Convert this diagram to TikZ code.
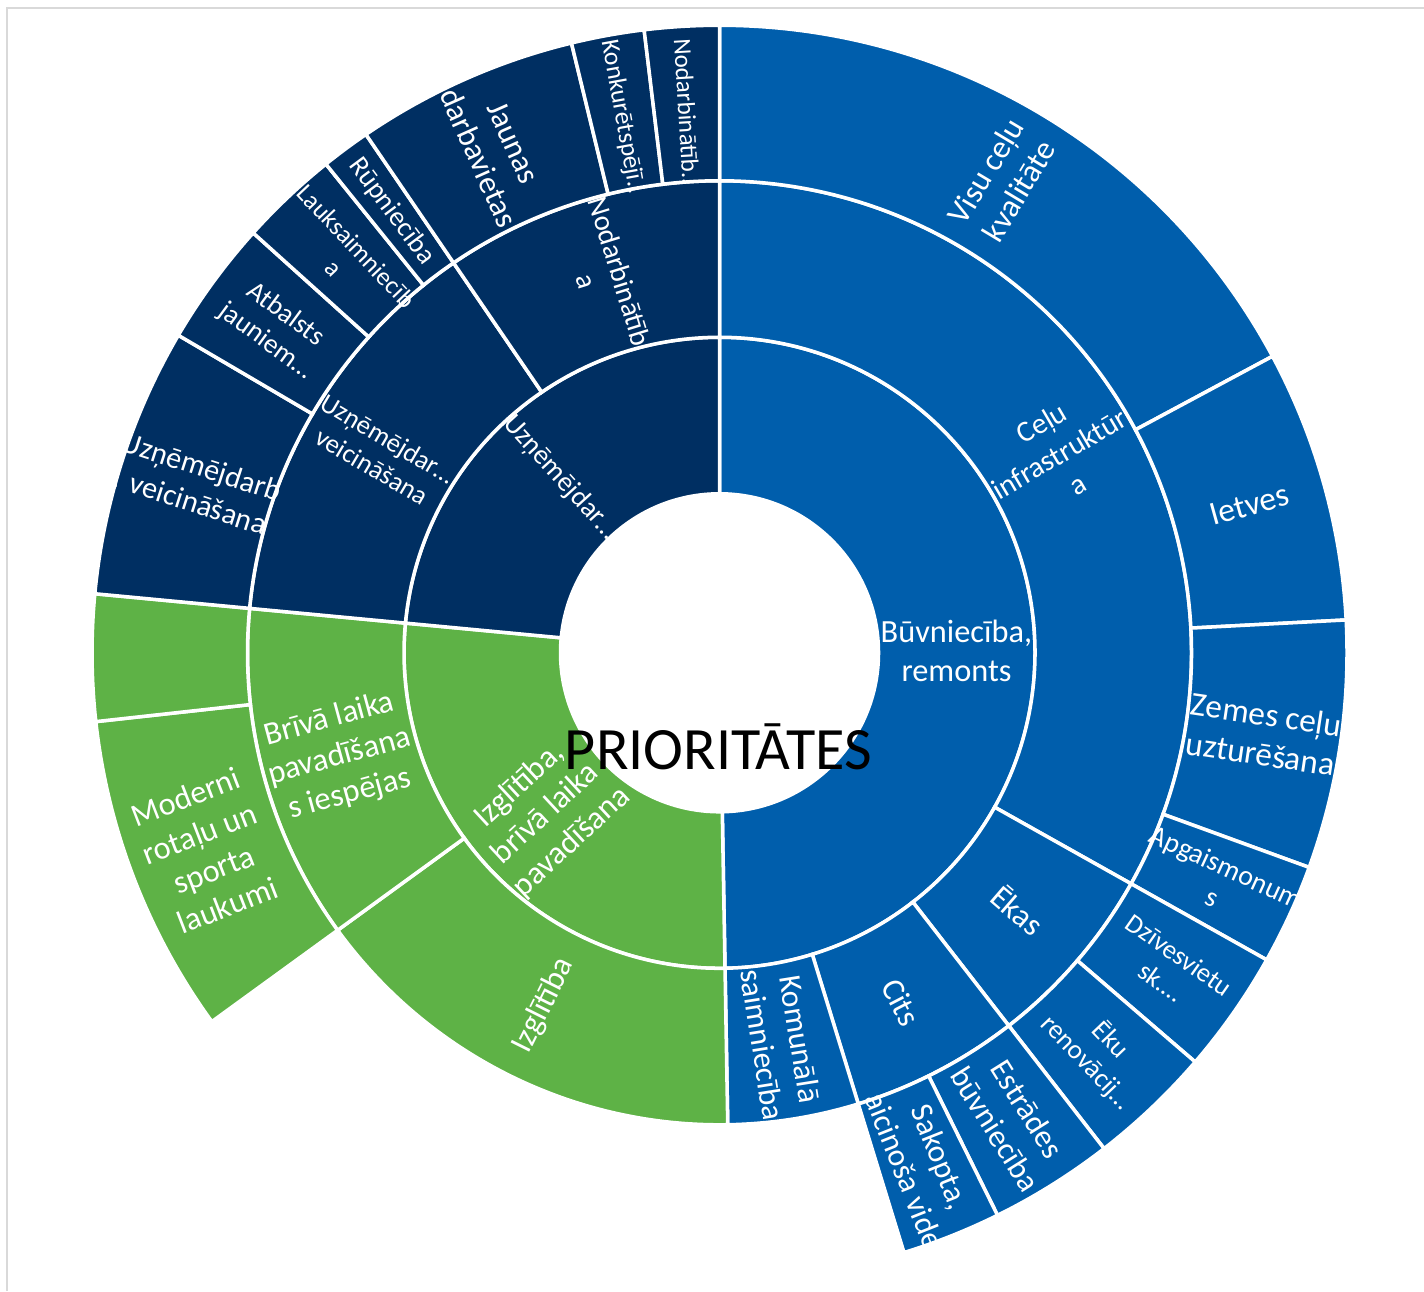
\documentclass[tikz,border=0pt]{standalone}
\usepackage{fontspec}
\setmainfont{Carlito}

\definecolor{buvblue}{RGB}{0,94,172}
\definecolor{uznnavy}{RGB}{0,47,98}
\definecolor{izgreen}{RGB}{94,178,70}
\definecolor{framegray}{RGB}{217,217,217}

\begin{document}
\begin{tikzpicture}
 [ part/.style={draw=white, line width=1pt}
 , lbl/.style={text=white, align=center, inner sep=0pt, font=\fontsize{9.2}{11}\selectfont}
 , fs/.style 2 args={font=\fontsize{#1}{#2}\selectfont}
 , title/.style={text=black, inner sep=0pt, font=\fontsize{17.1}{20.5}\selectfont}
 ]
  \useasboundingbox (0,0) rectangle (14.24,12.91);
  \draw[framegray, line width=0.6pt] (0.07,0) -- (0.07,12.83) -- (14.24,12.83);

  \def\rH{1.59}  % hole
  \def\rA{3.155} % ring 1
  \def\rB{4.72}  % ring 2
  \def\rC{6.275} % ring 3

  \begin{scope}[shift={(7.195,6.382)}]
    % ring 1
    \foreach \col/\a/\b in {buvblue/90/-89, izgreen/-89/-185.4, uznnavy/174.6/90}
      \fill[fill=\col, part] (\a:\rH) arc[start angle=\a, end angle=\b, radius=\rH]
        -- (\b:\rA) arc[start angle=\b, end angle=\a, radius=\rA] -- cycle;
    % ring 2
    \foreach \col/\a/\b in {buvblue/90/-29.3, buvblue/-29.3/-52.2, buvblue/-52.2/-72.9,
        buvblue/-72.9/-89, izgreen/-89/-144, izgreen/216/174.6,
        uznnavy/174.6/124.3, uznnavy/124.3/90}
      \fill[fill=\col, part] (\a:\rA) arc[start angle=\a, end angle=\b, radius=\rA]
        -- (\b:\rB) arc[start angle=\b, end angle=\a, radius=\rB] -- cycle;
    % ring 3
    \foreach \col/\a/\b in {buvblue/90/28.2, buvblue/28.2/3, buvblue/3/-20,
        buvblue/-20/-29.3, buvblue/-29.3/-40.7, buvblue/-40.7/-52.2,
        buvblue/-52.2/-63.7, buvblue/-63.7/-72.9,
        izgreen/216/186.3, izgreen/186.3/174.6,
        uznnavy/174.6/149.6, uznnavy/149.6/138, uznnavy/138/128.85,
        uznnavy/128.85/124.3, uznnavy/124.3/103.65, uznnavy/103.65/96.9,
        uznnavy/96.9/90}
      \fill[fill=\col, part] (\a:\rB) arc[start angle=\a, end angle=\b, radius=\rB]
        -- (\b:\rC) arc[start angle=\b, end angle=\a, radius=\rC] -- cycle;

    % labels, ring 1
    \node[lbl] (buvn) at (0.5:2.37) {Būvniecība,\\remonts};
    \node[lbl, rotate=42.8] (izglbriv) at (-137.2:2.37) {Izglītība,\\brīvā laika\\pavadīšana};
    \node[lbl, fs={7.9}{9.6}, rotate=-47.7] (uznem) at (132.3:2.37) {Uzņēmējdar…};

    % labels, ring 2
    \node[lbl, fs={8.4}{10.2}, rotate=30.35] (celi) at (30.35:3.94) {Ceļu\\infrastruktūr\\a};
    \node[lbl, rotate=-40.75] (ekas) at (-40.75:3.94) {Ēkas};
    \node[lbl, rotate=-62.55] (cits) at (-62.55:3.94) {Cits};
    \node[lbl, fs={9}{10.8}, rotate=-80.95] (komun) at (-80.95:3.94) {Komunālā\\saimniecība};
    \node[lbl, rotate=63.5] (izgl) at (-116.5:3.94) {Izglītība};
    \node[lbl, rotate=15.3] (briv) at (195.3:3.94) {Brīvā laika\\pavadīšana\\s iespējas};
    \node[lbl, fs={7.6}{9.2}, rotate=-30.55] (uzveic) at (149.45:3.94) {Uzņēmējdar…\\veicināšana};
    \node[lbl, fs={8.2}{10}, rotate=-72.85] (nodarb) at (107.15:3.94) {Nodarbinātīb\\a};

    % labels, ring 3
    \node[lbl, rotate=59.1] (visu) at (59.1:5.5) {Visu ceļu\\kvalitāte};
    \node[lbl, fs={9.5}{11.4}, rotate=15.6] (ietves) at (15.6:5.5) {Ietves};
    \node[lbl, fs={9.5}{11.4}, rotate=-8.5] (zemes) at (-8.5:5.5) {Zemes ceļu\\uzturēšana};
    \node[lbl, fs={8}{9.6}, rotate=-24.65] (apgaism) at (-24.65:5.5) {Apgaismonum\\s};
    \node[lbl, fs={7.6}{9.2}, rotate=-35] (dzives) at (-35:5.5) {Dzīvesvietu\\sk.…};
    \node[lbl, fs={7.7}{9.3}, rotate=-46.45] (ekuren) at (-46.45:5.5) {Ēku\\renovācij…};
    \node[lbl, fs={9}{10.8}, rotate=-57.95] (estrad) at (-57.95:5.5) {Estrādes\\būvniecība};
    \node[lbl, fs={9}{10.8}, rotate=-68.3] (sakopt) at (-68.3:5.5) {Sakopta,\\aicinoša vide};
    \node[lbl, rotate=21.15] (moderni) at (201.15:5.5) {Moderni\\rotaļu un\\sporta\\laukumi};
    \node[lbl, fs={8.6}{10.4}, rotate=-17.9] (uzveicb) at (162.1:5.5) {Uzņēmējdarb\\. veicināšana};
    \node[lbl, fs={7.8}{9.4}, rotate=-36.2] (atbalsts) at (143.8:5.5) {Atbalsts\\jauniem…};
    \node[lbl, fs={7.3}{8.8}, rotate=-46.6] (lauks) at (133.4:5.45) {Lauksaimniecīb\\a};
    \node[lbl, fs={7.9}{9.4}, rotate=-53.4] (rupn) at (126.6:5.5) {Rūpniecība};
    \node[lbl, fs={9}{10.8}, rotate=-66] (jaunas) at (114:5.5) {Jaunas\\darbavietas};
    \node[lbl, fs={7.3}{8.8}, rotate=-79.7] (konkur) at (100.3:5.45) {Konkurētspējī..};
    \node[lbl, fs={7.1}{8.6}, rotate=-86.55] (nodarbb) at (93.45:5.42) {Nodarbinātīb..};
  \end{scope}

  \node[title, anchor=base] (prio) at (7.183,5.21) {PRIORITĀTES};
\end{tikzpicture}
\end{document}
